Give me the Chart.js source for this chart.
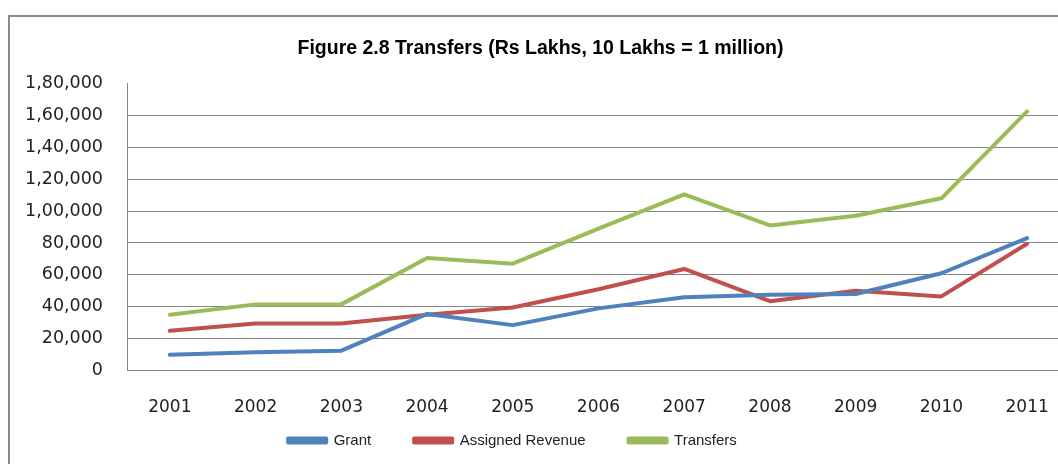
<!DOCTYPE html>
<html>
<head>
<meta charset="utf-8">
<script src="https://cdn.jsdelivr.net/npm/chart.js@4/dist/chart.umd.min.js"></script>
<style>
  html, body { margin: 0; padding: 0; background: #fff; overflow: hidden; width: 1058px; height: 464px; }
  #box { position: absolute; left: 8px; top: 15px; border: 2px solid #8a8a8a; width: 1066px; height: 488px; }
  canvas { display: block; }
</style>
</head>
<body>
<div id="box"><canvas id="transfersChart" width="1066" height="488"></canvas></div>
<script>
// Years on the x axis
const years = ["2001", "2002", "2003", "2004", "2005", "2006", "2007", "2008", "2009", "2010", "2011"];

// Values in Rs Lakhs
const grant = [10000, 11500, 12500, 35500, 28500, 39000, 46000, 47500, 48000, 61000, 83000];
const assignedRevenue = [25000, 29500, 29500, 35000, 39500, 51000, 63700, 43500, 50000, 46500, 79500];
const transfers = [35000, 41500, 41500, 70500, 67000, 89000, 110500, 91000, 97000, 108000, 162500];

// y axis ticks
const yMax = 180000;
const yStep = 20000;

// 1,80,000 style grouping
const indianFormat = (v) => {
  const s = String(Math.round(v));
  if (s.length <= 3) return s;
  const last3 = s.slice(-3);
  const rest = s.slice(0, -3).replace(/\B(?=(\d{2})+(?!\d))/g, ",");
  return rest + "," + last3;
};

const gridGrey = "#868686";
const textColor = "#222";

// Excel puts the legend a little left of centre and closer to the axis labels
const legendNudge = {
  id: "legendNudge",
  afterLayout(chart) {
    const lg = chart.legend;
    if (!lg) return;
    lg.left -= 28;
    lg.right -= 28;
    lg.top -= 55;
    lg.bottom -= 55;
  },
};

const ctx = document.getElementById("transfersChart").getContext("2d");
new Chart(ctx, {
  type: "line",
  data: {
    labels: years,
    datasets: [
      { label: "Grant", data: grant, borderColor: "#4F81BD", backgroundColor: "#4F81BD" },
      { label: "Assigned Revenue", data: assignedRevenue, borderColor: "#C0504D", backgroundColor: "#C0504D" },
      { label: "Transfers", data: transfers, borderColor: "#9BBB59", backgroundColor: "#9BBB59" },
    ],
  },
  plugins: [legendNudge],
  options: {
    responsive: false,
    animation: false,
    layout: { padding: { left: 0, right: 5, top: 0, bottom: 0 } },
    elements: {
      line: { borderWidth: 4, tension: 0, borderCapStyle: "round", borderJoinStyle: "round" },
      point: { radius: 0, hoverRadius: 0 },
    },
    plugins: {
      title: {
        display: true,
        text: "Figure 2.8 Transfers (Rs Lakhs, 10 Lakhs = 1 million)",
        color: "#000",
        font: { family: "'Liberation Sans', sans-serif", size: 19.5, weight: "bold" },
        padding: { top: 20, bottom: 23 },
      },
      legend: {
        position: "bottom",
        maxHeight: 60,
        labels: {
          color: textColor,
          font: { family: "'Liberation Sans', sans-serif", size: 15 },
          boxWidth: 38,
          boxHeight: 4,
          padding: 43,
        },
      },
      tooltip: { enabled: false },
    },
    scales: {
      x: {
        offset: true,
        grid: { display: false, drawTicks: false },
        border: { display: true, color: gridGrey, width: 1 },
        ticks: {
          color: textColor,
          font: { family: "'DejaVu Sans', sans-serif", size: 17 },
          padding: 27,
          maxRotation: 0,
        },
      },
      y: {
        min: 0,
        max: yMax,
        afterFit: (scale) => { scale.width = 117; },
        grid: {
          drawTicks: false,
          color: (c) => (c.tick && c.tick.value === yMax ? "rgba(0,0,0,0)" : gridGrey),
          lineWidth: 1,
        },
        border: { display: true, color: gridGrey, width: 1 },
        ticks: {
          stepSize: yStep,
          color: textColor,
          font: { family: "'DejaVu Sans', sans-serif", size: 17.5 },
          padding: 24,
          callback: (v) => indianFormat(v),
        },
      },
    },
  },
});
</script>
</body>
</html>
